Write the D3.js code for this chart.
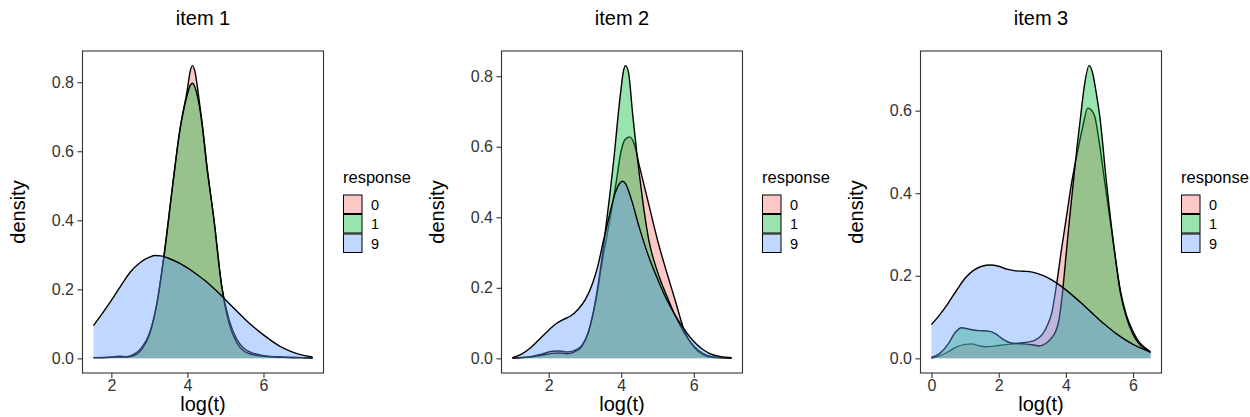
<!DOCTYPE html>
<html>
<head>
<meta charset="utf-8">
<script src="https://cdn.jsdelivr.net/npm/d3@7"></script>
<style>
  html, body { margin: 0; padding: 0; background: #ffffff; }
  svg { display: block; font-family: "Liberation Sans", Arial, Helvetica, sans-serif; }
</style>
</head>
<body>
<svg id="chart" width="1250" height="417"></svg>
<script>
// ---------------- data ----------------
const items = ["item 1", "item 2", "item 3"];
const responses = ["0", "1", "9"];
const responseColors = ["#F8766D", "#00BA38", "#619CFF"];

const xTicks1 = [2, 4, 6];
const xTicks2 = [2, 4, 6];
const xTicks3 = [0, 2, 4, 6];
const yTicks1 = [0, 0.2, 0.4, 0.6, 0.8];
const yTicks2 = [0, 0.2, 0.4, 0.6, 0.8];
const yTicks3 = [0, 0.2, 0.4, 0.6];

// item 1 : [log(t), density]
const item1_resp0 = [[1.53,0.002],[2.0,0.004],[2.2,0.006],[2.4,0.005],[2.6,0.012],[2.8,0.032],[3.0,0.072],[3.2,0.16],[3.4,0.31],[3.6,0.49],[3.8,0.66],[4.0,0.78],[4.07,0.83],[4.13,0.848],[4.2,0.83],[4.3,0.755],[4.4,0.67],[4.5,0.57],[4.7,0.40],[4.9,0.21],[5.1,0.11],[5.3,0.055],[5.5,0.028],[5.75,0.014],[6.0,0.008],[6.5,0.004],[7.0,0.002],[7.29,0.001]];
const item1_resp1 = [[1.53,0.002],[2.0,0.003],[2.2,0.004],[2.4,0.004],[2.6,0.008],[2.8,0.026],[3.0,0.068],[3.2,0.16],[3.4,0.31],[3.6,0.49],[3.8,0.66],[4.0,0.765],[4.07,0.79],[4.13,0.797],[4.2,0.785],[4.3,0.74],[4.4,0.665],[4.5,0.565],[4.7,0.40],[4.9,0.21],[5.1,0.10],[5.3,0.045],[5.5,0.02],[5.75,0.01],[6.0,0.006],[6.5,0.003],[7.0,0.002],[7.29,0.001]];
const item1_resp9 = [[1.53,0.095],[1.75,0.128],[2.0,0.168],[2.25,0.21],[2.5,0.25],[2.75,0.277],[3.0,0.293],[3.15,0.298],[3.3,0.297],[3.5,0.29],[3.75,0.278],[4.0,0.262],[4.25,0.243],[4.5,0.222],[4.75,0.197],[5.0,0.17],[5.25,0.142],[5.5,0.115],[5.75,0.09],[6.0,0.068],[6.25,0.048],[6.5,0.031],[6.75,0.019],[7.0,0.01],[7.29,0.004]];

// item 2
const item2_resp0 = [[1.0,0.001],[1.5,0.005],[1.8,0.012],[2.1,0.02],[2.3,0.021],[2.5,0.018],[2.7,0.022],[2.9,0.035],[3.1,0.078],[3.3,0.165],[3.5,0.29],[3.75,0.43],[3.86,0.50],[4.0,0.59],[4.1,0.62],[4.23,0.628],[4.35,0.61],[4.5,0.545],[4.75,0.44],[5.0,0.335],[5.25,0.245],[5.5,0.16],[5.7,0.09],[5.85,0.055],[6.0,0.032],[6.25,0.01],[6.5,0.003],[7.04,0.001]];
const item2_resp1 = [[1.0,0.001],[1.5,0.004],[1.8,0.009],[2.1,0.014],[2.3,0.015],[2.5,0.013],[2.7,0.018],[2.9,0.032],[3.1,0.075],[3.3,0.17],[3.5,0.31],[3.68,0.46],[3.82,0.59],[3.91,0.686],[4.0,0.77],[4.06,0.815],[4.12,0.83],[4.2,0.81],[4.32,0.686],[4.42,0.59],[4.5,0.52],[4.6,0.44],[4.75,0.34],[5.0,0.245],[5.25,0.178],[5.5,0.118],[5.75,0.07],[6.0,0.035],[6.25,0.014],[6.5,0.005],[7.04,0.001]];
const item2_resp9 = [[1.0,0.002],[1.25,0.012],[1.5,0.03],[1.75,0.055],[2.0,0.08],[2.2,0.098],[2.4,0.11],[2.6,0.12],[2.8,0.138],[3.0,0.165],[3.2,0.21],[3.35,0.26],[3.5,0.33],[3.66,0.40],[3.82,0.465],[3.95,0.495],[4.03,0.502],[4.12,0.495],[4.28,0.45],[4.5,0.37],[4.75,0.29],[5.0,0.225],[5.25,0.167],[5.5,0.12],[5.75,0.08],[6.0,0.048],[6.25,0.025],[6.5,0.011],[6.75,0.005],[7.04,0.002]];

// item 3
const item3_resp0 = [[0,0.001],[0.25,0.006],[0.5,0.016],[0.75,0.028],[1.0,0.034],[1.2,0.035],[1.4,0.031],[1.6,0.028],[1.8,0.029],[2.0,0.031],[2.3,0.034],[2.6,0.037],[2.9,0.04],[3.1,0.045],[3.3,0.058],[3.45,0.08],[3.58,0.11],[3.73,0.183],[3.87,0.264],[4.02,0.344],[4.17,0.425],[4.37,0.51],[4.5,0.56],[4.65,0.606],[4.75,0.602],[4.86,0.586],[5.0,0.52],[5.16,0.425],[5.3,0.345],[5.44,0.264],[5.62,0.165],[5.8,0.105],[6.0,0.065],[6.15,0.043],[6.35,0.026],[6.52,0.016]];
const item3_resp1 = [[0,0.002],[0.25,0.012],[0.5,0.035],[0.7,0.062],[0.9,0.074],[1.1,0.071],[1.3,0.068],[1.5,0.067],[1.7,0.066],[1.9,0.06],[2.1,0.048],[2.3,0.039],[2.5,0.036],[2.75,0.035],[3.0,0.033],[3.2,0.030],[3.4,0.036],[3.6,0.052],[3.7,0.066],[3.8,0.095],[3.9,0.16],[4.0,0.245],[4.1,0.33],[4.22,0.425],[4.33,0.51],[4.44,0.586],[4.55,0.66],[4.69,0.709],[4.8,0.69],[4.9,0.645],[5.01,0.586],[5.21,0.425],[5.44,0.264],[5.62,0.16],[5.8,0.1],[6.0,0.058],[6.15,0.038],[6.35,0.022],[6.52,0.014]];
const item3_resp9 = [[0,0.082],[0.25,0.106],[0.5,0.134],[0.75,0.165],[1.0,0.194],[1.25,0.213],[1.5,0.223],[1.75,0.226],[2.0,0.223],[2.25,0.216],[2.5,0.212],[2.75,0.211],[3.0,0.209],[3.25,0.203],[3.5,0.194],[3.75,0.181],[4.0,0.166],[4.25,0.149],[4.5,0.131],[4.75,0.112],[5.0,0.093],[5.25,0.076],[5.5,0.06],[5.75,0.046],[6.0,0.034],[6.25,0.024],[6.52,0.015]];

const panelSeries = [
  [item1_resp0, item1_resp1, item1_resp9],
  [item2_resp0, item2_resp1, item2_resp9],
  [item3_resp0, item3_resp1, item3_resp9]
];
const panelXTicks = [xTicks1, xTicks2, xTicks3];
const panelYTicks = [yTicks1, yTicks2, yTicks3];

// ---------------- layout ----------------
const svg = d3.select("#chart");
const panelLefts = [82.5, 501.5, 920.5];
const panelW = 241;
const panelTop = 51;
const panelH = 322;
const fontStack = '"Liberation Sans", Arial, Helvetica, sans-serif';

panelSeries.forEach((series, p) => {
  const left = panelLefts[p];
  const right = left + panelW;
  const bottom = panelTop + panelH;
  const all = series.flat();
  const xExt = d3.extent(all, d => d[0]);
  const yMax = d3.max(all, d => d[1]);
  const xPad = (xExt[1] - xExt[0]) * 0.05;
  const x = d3.scaleLinear().domain([xExt[0] - xPad, xExt[1] + xPad]).range([left, right]);
  const y = d3.scaleLinear().domain([-0.05 * yMax, 1.05 * yMax]).range([bottom, panelTop]);

  const g = svg.append("g");

  // density areas, one group after the other (fill + upper outline)
  const area = d3.area().curve(d3.curveMonotoneX)
    .x(d => x(d[0])).y0(y(0)).y1(d => y(d[1]));
  const line = d3.line().curve(d3.curveMonotoneX)
    .x(d => x(d[0])).y(d => y(d[1]));
  series.forEach((s, i) => {
    g.append("path").datum(s).attr("d", area)
      .attr("fill", responseColors[i]).attr("fill-opacity", 0.4).attr("stroke", "none");
    g.append("path").datum(s).attr("d", line)
      .attr("fill", "none").attr("stroke", "#000").attr("stroke-width", 1.4)
      .attr("stroke-linejoin", "round");
  });

  // panel border
  g.append("rect").attr("x", left).attr("y", panelTop).attr("width", panelW).attr("height", panelH)
    .attr("fill", "none").attr("stroke", "#333333").attr("stroke-width", 1.1);

  // axes
  const xAxis = d3.axisBottom(x).tickValues(panelXTicks[p]).tickFormat(d3.format("d"))
    .tickSize(5).tickPadding(2);
  const gx = g.append("g").attr("transform", `translate(0,${bottom})`).call(xAxis);
  gx.select(".domain").remove();
  gx.selectAll(".tick line").attr("stroke", "#333333").attr("stroke-width", 1.1);
  gx.selectAll(".tick text").attr("fill", "#333333").style("font-size", "16px").style("font-family", fontStack);

  const yAxis = d3.axisLeft(y).tickValues(panelYTicks[p]).tickFormat(d3.format(".1f"))
    .tickSize(5).tickPadding(3.5);
  const gy = g.append("g").attr("transform", `translate(${left},0)`).call(yAxis);
  gy.select(".domain").remove();
  gy.selectAll(".tick line").attr("stroke", "#333333").attr("stroke-width", 1.1);
  gy.selectAll(".tick text").attr("fill", "#333333").style("font-size", "16px").style("font-family", fontStack);

  // titles
  g.append("text").attr("x", (left + right) / 2).attr("y", 25).attr("text-anchor", "middle")
    .style("font-size", "20px").attr("fill", "#000").text(items[p]);
  g.append("text").attr("x", (left + right) / 2).attr("y", 411).attr("text-anchor", "middle")
    .style("font-size", "20px").attr("fill", "#000").text("log(t)");
  g.append("text").attr("transform", `translate(${left - 58},${(panelTop + bottom) / 2}) rotate(-90)`)
    .attr("text-anchor", "middle").style("font-size", "20px").attr("fill", "#000").text("density");

  // legend
  const lx = right + 19.5;
  g.append("text").attr("x", lx).attr("y", 183).style("font-size", "16.5px").attr("fill", "#000").text("response");
  responses.forEach((r, i) => {
    const ky = 195 + i * 19.5;
    g.append("rect").attr("x", lx + 0.5).attr("y", ky).attr("width", 18.5).attr("height", 18.5)
      .attr("fill", responseColors[i]).attr("fill-opacity", 0.4)
      .attr("stroke", "#000").attr("stroke-width", 1);
    g.append("text").attr("x", lx + 28).attr("y", ky + 14.5).style("font-size", "14.5px").attr("fill", "#000").text(r);
  });
});
</script>
</body>
</html>
